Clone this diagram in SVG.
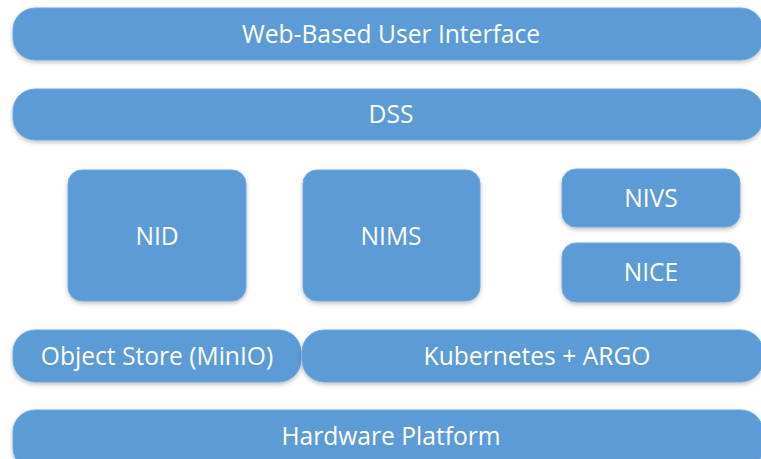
<svg xmlns="http://www.w3.org/2000/svg" width="761" height="459" viewBox="0 0 761 459">
<style>
.box{fill:#5B9BD5;stroke:#6FA8DC;stroke-width:1;filter:url(#sh)}
.t{font-family:"Open Sans","Liberation Sans",sans-serif;font-size:24.6px;fill:#ffffff;text-anchor:middle;dominant-baseline:central}
</style>
<defs>
<filter id="sh" x="-10%" y="-20%" width="120%" height="150%">
<feDropShadow dx="0" dy="2" stdDeviation="2" flood-color="#000" flood-opacity="0.25"/>
</filter>
</defs>
<rect width="761" height="459" fill="#ffffff"/>
<g id="web"><rect class="box" x="13" y="8" width="750" height="52" rx="22"/><text class="t" x="391" y="33">Web-Based User Interface</text></g>
<g id="dss"><rect class="box" x="13" y="89" width="750" height="51" rx="22"/><text class="t" x="391" y="113">DSS</text></g>
<g id="nid"><rect class="box" x="68" y="170" width="178" height="131" rx="14"/><text class="t" x="157" y="235">NID</text></g>
<g id="nims"><rect class="box" x="303" y="170" width="177" height="131" rx="14"/><text class="t" x="391" y="235">NIMS</text></g>
<g id="nivs"><rect class="box" x="562" y="169" width="178" height="58" rx="14"/><text class="t" x="651" y="197">NIVS</text></g>
<g id="nice"><rect class="box" x="562" y="243" width="178" height="59" rx="14"/><text class="t" x="651" y="271">NICE</text></g>
<g id="objstore"><rect class="box" x="13" y="330" width="288" height="52" rx="22"/><text class="t" x="157" y="355">Object Store (MinIO)</text></g>
<g id="k8s"><rect class="box" x="302" y="330" width="461" height="52" rx="22"/><text class="t" x="537" y="355">Kubernetes + ARGO</text></g>
<g id="hw"><rect class="box" x="13" y="410" width="750" height="60" rx="22"/><text class="t" x="391" y="435">Hardware Platform</text></g>
<g id="connectors"></g>
</svg>
